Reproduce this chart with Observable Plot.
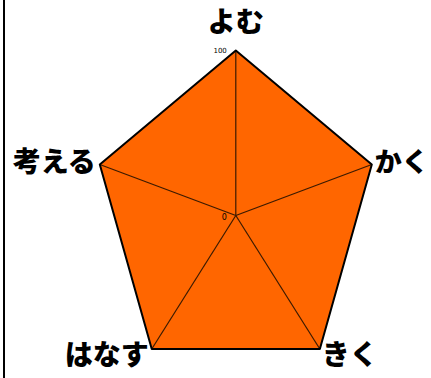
<!DOCTYPE html>
<html><head><meta charset="utf-8">
<script src="https://cdn.jsdelivr.net/npm/d3@7"></script>
<script src="https://cdn.jsdelivr.net/npm/@observablehq/plot@0.6"></script>
<style>
html,body{margin:0;padding:0;background:#fff;}
#wrap{position:relative;width:431px;height:378px;overflow:hidden;}
#wrap svg{position:absolute;left:0;top:0;}
#edge{position:absolute;left:3px;top:0;width:2px;height:378px;background:#000;}
</style></head>
<body><div id="wrap"><div id="edge"></div></div>
<script>
const axes = ["よむ", "かく", "きく", "はなす", "考える"];
const values = [100, 100, 100, 100, 100];
const tickLabels = ["0", "100"];
const tickValues = [0, 100];

const n = axes.length;
const ang = i => 2 * Math.PI * i / n;
const pts = axes.map((a, i) => ({axis: a, v: values[i], i}));
const px = d => d.v * Math.sin(ang(d.i));
const py = d => d.v * Math.cos(ang(d.i));
const lx = (d) => 100 * Math.sin(ang(d.i));
const ly = (d) => 100 * Math.cos(ang(d.i));

const labelStyle = [
  {anchor: "middle", dx: 0, dy: -27},
  {anchor: "start", dx: 3, dy: -1},
  {anchor: "start", dx: 2, dy: 7},
  {anchor: "end", dx: -3, dy: 7},
  {anchor: "end", dx: -4, dy: -1}
];
const font = "'Noto Sans CJK JP', 'Noto Sans', sans-serif";

const marks = [
  Plot.line(pts, {x: px, y: py, curve: "linear-closed", fill: "#ff6600", stroke: "none"}),
  Plot.link(pts, {x1: 0, y1: 0, x2: lx, y2: ly, stroke: "#3a1a00", strokeWidth: 1.2}),
  Plot.line(pts, {x: px, y: py, curve: "linear-closed", fill: "none", stroke: "#000", strokeWidth: 2})
];
labelStyle.forEach((s, i) => {
  marks.push(Plot.text([pts[i]], {x: lx, y: ly, text: "axis", textAnchor: s.anchor, dx: s.dx, dy: s.dy,
    fontSize: i === 1 ? 27 : 28, fontWeight: 900, fontFamily: font, fill: "#000"}));
});
marks.push(Plot.text(tickValues.map((t, k) => ({t, lab: tickLabels[k]})), {
  x: 0, y: d => d.t, text: "lab", textAnchor: "end",
  fontSize: 7, fontFamily: "'DejaVu Sans', sans-serif", fill: "#000"
}));

const cx = 235.3, cy = 215, rx = 143, ry = 165;
const chart = Plot.plot({
  width: 431, height: 378,
  margin: 0,
  x: {domain: [-100, 100], range: [cx - rx, cx + rx], axis: null},
  y: {domain: [-100, 100], range: [cy + ry, cy - ry], axis: null},
  style: {background: "transparent", overflow: "visible"},
  marks
});
chart.querySelectorAll("text").forEach(t => {
  if (t.textContent === "100") { t.setAttribute("dx", "-9"); t.setAttribute("dy", "0"); }
  if (t.textContent === "0") { t.setAttribute("dx", "-9"); t.setAttribute("dy", "2"); t.setAttribute("font-size", "8"); }
});
document.getElementById("wrap").appendChild(chart);
</script></body></html>
